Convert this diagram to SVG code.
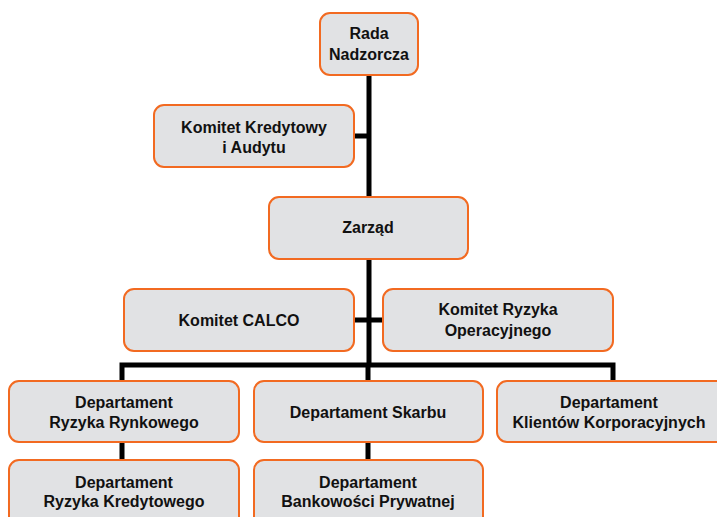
<svg xmlns="http://www.w3.org/2000/svg" width="717" height="517" viewBox="0 0 717 517">
<style>
.box{fill:#e1e2e4;stroke:#f26a21;stroke-width:2}
.t{font-family:"Liberation Sans",Arial,sans-serif;font-weight:bold;font-size:16px;fill:#111;text-anchor:middle}
.c{stroke:#000;stroke-width:5;fill:none}
</style>
<rect width="717" height="517" fill="#fff"/>
<g id="connectors">
<path class="c" d="M369 75V197M369 259V365M354 136H369M354 320H383M122 383V365H613V383M368 365V383M122 442V460M368 442V460"/>
</g>
<g id="rada"><rect class="box" x="320" y="13" width="98" height="62" rx="10"/><text class="t" x="369" y="39">Rada</text><text class="t" x="369" y="60">Nadzorcza</text></g>
<g id="komitet-kredytowy"><rect class="box" x="154" y="105" width="200" height="62" rx="10"/><text class="t" x="254" y="133">Komitet Kredytowy</text><text class="t" x="254" y="153">i Audytu</text></g>
<g id="zarzad"><rect class="box" x="269" y="197" width="199" height="62" rx="10"/><text class="t" x="368" y="233">Zarząd</text></g>
<g id="komitet-calco"><rect class="box" x="124" y="289" width="230" height="62" rx="10"/><text class="t" x="239" y="326">Komitet CALCO</text></g>
<g id="komitet-ryzyka"><rect class="box" x="383" y="289" width="230" height="62" rx="10"/><text class="t" x="498" y="315">Komitet Ryzyka</text><text class="t" x="498" y="336">Operacyjnego</text></g>
<g id="dep-rynkowego"><rect class="box" x="9" y="381" width="230" height="61" rx="10"/><text class="t" x="124" y="408">Departament</text><text class="t" x="124" y="428">Ryzyka Rynkowego</text></g>
<g id="dep-skarbu"><rect class="box" x="254" y="381" width="229" height="61" rx="10"/><text class="t" x="368" y="418">Departament Skarbu</text></g>
<g id="dep-klientow"><rect class="box" x="497" y="381" width="232" height="61" rx="10"/><text class="t" x="609" y="408">Departament</text><text class="t" x="609" y="428">Klientów Korporacyjnych</text></g>
<g id="dep-kredytowego"><rect class="box" x="9" y="460" width="230" height="70" rx="10"/><text class="t" x="124" y="488">Departament</text><text class="t" x="124" y="507">Ryzyka Kredytowego</text></g>
<g id="dep-bankowosci"><rect class="box" x="254" y="460" width="229" height="70" rx="10"/><text class="t" x="368" y="488">Departament</text><text class="t" x="368" y="507">Bankowości Prywatnej</text></g>
</svg>
